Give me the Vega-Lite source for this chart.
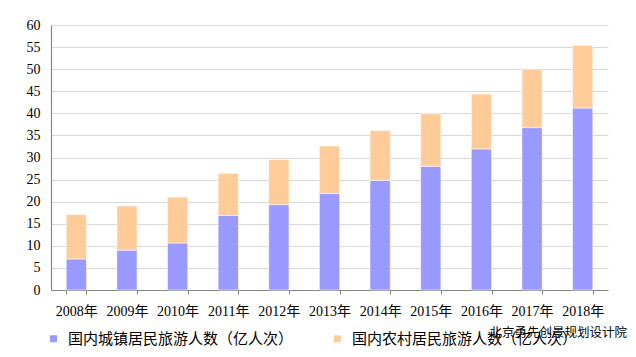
{
  "$schema": "https://vega.github.io/schema/vega-lite/v6.json",
  "width": 557,
  "height": 265,
  "autosize": "none",
  "padding": {"left": 51, "top": 25, "right": 28, "bottom": 67},
  "background": "#ffffff",
  "config": {
    "view": {"stroke": null},
    "font": "Liberation Serif, Noto Sans CJK SC"
  },
  "title": {
    "text": "北京勇先创景规划设计院",
    "orient": "bottom",
    "anchor": "end",
    "font": "Noto Sans CJK SC",
    "fontSize": 12.5,
    "fontWeight": "normal",
    "color": "#000000",
    "offset": 0,
    "dx": 19,
    "dy": -20
  },
  "data": {
    "values": [
      {"年份": "2008年", "类别": "国内城镇居民旅游人数（亿人次）", "人数": 7.03},
      {"年份": "2008年", "类别": "国内农村居民旅游人数（亿人次）", "人数": 10.09},
      {"年份": "2009年", "类别": "国内城镇居民旅游人数（亿人次）", "人数": 9.03},
      {"年份": "2009年", "类别": "国内农村居民旅游人数（亿人次）", "人数": 9.99},
      {"年份": "2010年", "类别": "国内城镇居民旅游人数（亿人次）", "人数": 10.65},
      {"年份": "2010年", "类别": "国内农村居民旅游人数（亿人次）", "人数": 10.38},
      {"年份": "2011年", "类别": "国内城镇居民旅游人数（亿人次）", "人数": 16.87},
      {"年份": "2011年", "类别": "国内农村居民旅游人数（亿人次）", "人数": 9.54},
      {"年份": "2012年", "类别": "国内城镇居民旅游人数（亿人次）", "人数": 19.33},
      {"年份": "2012年", "类别": "国内农村居民旅游人数（亿人次）", "人数": 10.24},
      {"年份": "2013年", "类别": "国内城镇居民旅游人数（亿人次）", "人数": 21.86},
      {"年份": "2013年", "类别": "国内农村居民旅游人数（亿人次）", "人数": 10.76},
      {"年份": "2014年", "类别": "国内城镇居民旅游人数（亿人次）", "人数": 24.83},
      {"年份": "2014年", "类别": "国内农村居民旅游人数（亿人次）", "人数": 11.28},
      {"年份": "2015年", "类别": "国内城镇居民旅游人数（亿人次）", "人数": 28.02},
      {"年份": "2015年", "类别": "国内农村居民旅游人数（亿人次）", "人数": 11.88},
      {"年份": "2016年", "类别": "国内城镇居民旅游人数（亿人次）", "人数": 31.95},
      {"年份": "2016年", "类别": "国内农村居民旅游人数（亿人次）", "人数": 12.40},
      {"年份": "2017年", "类别": "国内城镇居民旅游人数（亿人次）", "人数": 36.77},
      {"年份": "2017年", "类别": "国内农村居民旅游人数（亿人次）", "人数": 13.24},
      {"年份": "2018年", "类别": "国内城镇居民旅游人数（亿人次）", "人数": 41.19},
      {"年份": "2018年", "类别": "国内农村居民旅游人数（亿人次）", "人数": 14.20}
    ]
  },
  "mark": {"type": "bar", "stroke": "#ffffff", "strokeWidth": 0.8, "strokeOpacity": 0.7},
  "encoding": {
    "x": {
      "field": "年份",
      "type": "nominal",
      "scale": {"paddingInner": 0.6, "paddingOuter": 0.3},
      "axis": {
        "title": null,
        "labelAngle": 0,
        "labelFont": "Liberation Serif, Noto Sans CJK SC",
        "labelFontSize": 14,
        "labelColor": "#000000",
        "labelPadding": 10,
        "domainColor": "#868686",
        "domainWidth": 1.2,
        "tickColor": "#868686",
        "tickSize": 4,
        "tickBand": "extent",
        "grid": false
      }
    },
    "y": {
      "field": "人数",
      "type": "quantitative",
      "stack": "zero",
      "scale": {"domain": [0, 60], "nice": false},
      "axis": {
        "title": null,
        "values": [0, 5, 10, 15, 20, 25, 30, 35, 40, 45, 50, 55, 60],
        "labelFont": "Liberation Serif",
        "labelFontSize": 14,
        "labelColor": "#000000",
        "labelPadding": 11,
        "ticks": false,
        "domainColor": "#868686",
        "domainWidth": 1.2,
        "gridColor": "#d9d9d9",
        "gridWidth": 1
      }
    },
    "color": {
      "field": "类别",
      "type": "nominal",
      "scale": {
        "domain": ["国内城镇居民旅游人数（亿人次）", "国内农村居民旅游人数（亿人次）"],
        "range": ["#9999ff", "#ffcc99"]
      },
      "legend": {
        "title": null,
        "orient": "none",
        "legendX": -5,
        "legendY": 306,
        "direction": "horizontal",
        "symbolType": "square",
        "symbolSize": 49,
        "symbolStrokeWidth": 0,
        "labelFont": "Noto Sans CJK SC",
        "labelFontSize": 15,
        "labelColor": "#000000",
        "labelOffset": 7,
        "columnPadding": 36,
        "labelLimit": 400
      }
    },
    "order": {"field": "类别", "sort": "descending"}
  }
}
